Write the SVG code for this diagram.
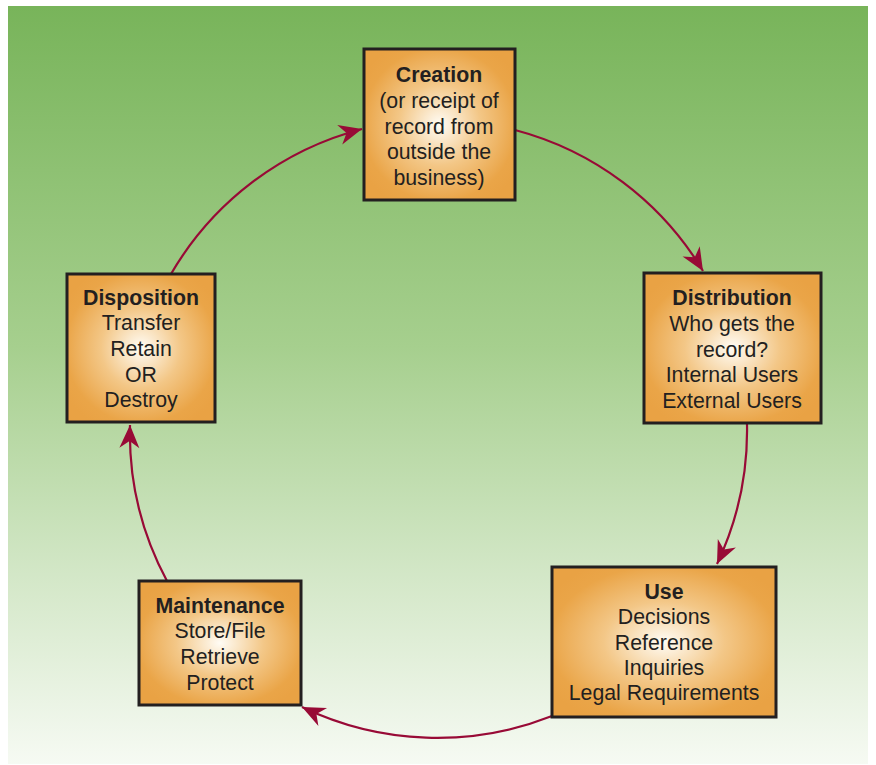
<svg xmlns="http://www.w3.org/2000/svg" width="876" height="765" viewBox="0 0 876 765">
  <defs>
    <linearGradient id="bg" x1="0" y1="0" x2="0" y2="1">
      <stop offset="0" stop-color="#78B45A"/>
      <stop offset="0.45" stop-color="#A6CF8E"/>
      <stop offset="0.75" stop-color="#D3E7C7"/>
      <stop offset="1" stop-color="#F6FAF3"/>
    </linearGradient>
    <radialGradient id="boxfill" cx="0.5" cy="0.5" r="0.6">
      <stop offset="0" stop-color="#FFFCF5"/>
      <stop offset="0.45" stop-color="#F3C787"/>
      <stop offset="0.85" stop-color="#EAA548"/>
      <stop offset="1" stop-color="#E9A244"/>
    </radialGradient>
    <marker id="arr" markerUnits="userSpaceOnUse" markerWidth="28" markerHeight="24" viewBox="-25 -12 27 24" refX="0" refY="0" orient="auto">
      <path d="M0,0 L-23,-10 L-16,0 L-23,10 Z" fill="#980A36"/>
    </marker>
  </defs>
  <style>
    .box { fill: url(#boxfill); stroke: #231F20; stroke-width: 3; }
    .t { font-family: "Liberation Sans", Arial, sans-serif; font-size: 21.3px; fill: #231F20; text-anchor: middle; }
    .b { font-weight: bold; }
    .c { fill: none; stroke: #980A36; stroke-width: 2.2; marker-end: url(#arr); }
  </style>
  <rect x="8" y="6" width="860" height="758" fill="url(#bg)"/>

  <g id="connectors">
    <path class="c" d="M515,130 A312,312 0 0 1 703,271"/>
    <path class="c" d="M747,424 A312,312 0 0 1 717,564"/>
    <path class="c" d="M552,716 A312,312 0 0 1 302,707"/>
    <path class="c" d="M167,581 A312,312 0 0 1 130,425"/>
    <path class="c" d="M171,274 A312,312 0 0 1 362,129"/>
  </g>

  <g id="creation">
    <rect class="box" x="364" y="49" width="151" height="151"/>
    <text class="t b" x="439" y="82">Creation</text>
    <text class="t" x="439" y="108">(or receipt of</text>
    <text class="t" x="439" y="134">record from</text>
    <text class="t" x="439" y="159">outside the</text>
    <text class="t" x="439" y="185">business)</text>
  </g>

  <g id="distribution">
    <rect class="box" x="644" y="273" width="177" height="150"/>
    <text class="t b" x="732" y="305">Distribution</text>
    <text class="t" x="732" y="331">Who gets the</text>
    <text class="t" x="732" y="357">record?</text>
    <text class="t" x="732" y="382">Internal Users</text>
    <text class="t" x="732" y="408">External Users</text>
  </g>

  <g id="use">
    <rect class="box" x="552" y="567" width="224" height="150"/>
    <text class="t b" x="664" y="599">Use</text>
    <text class="t" x="664" y="624">Decisions</text>
    <text class="t" x="664" y="650">Reference</text>
    <text class="t" x="664" y="675">Inquiries</text>
    <text class="t" x="664" y="700">Legal Requirements</text>
  </g>

  <g id="maintenance">
    <rect class="box" x="139" y="581" width="162" height="124"/>
    <text class="t b" x="220" y="613">Maintenance</text>
    <text class="t" x="220" y="638">Store/File</text>
    <text class="t" x="220" y="664">Retrieve</text>
    <text class="t" x="220" y="690">Protect</text>
  </g>

  <g id="disposition">
    <rect class="box" x="67" y="274" width="148" height="148"/>
    <text class="t b" x="141" y="305">Disposition</text>
    <text class="t" x="141" y="330">Transfer</text>
    <text class="t" x="141" y="356">Retain</text>
    <text class="t" x="141" y="382">OR</text>
    <text class="t" x="141" y="407">Destroy</text>
  </g>
</svg>
